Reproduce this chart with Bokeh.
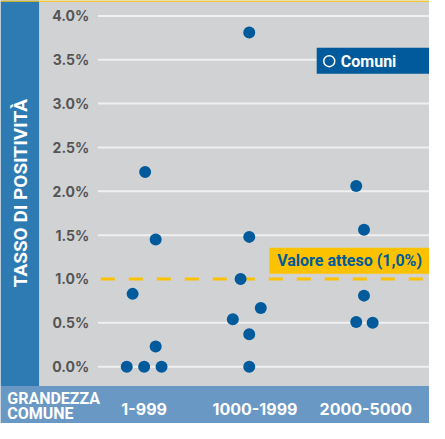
import math
from bokeh.plotting import figure
from bokeh.models import Range1d, BoxAnnotation
from bokeh.core.properties import value
from bokeh.embed import file_html
from bokeh.resources import INLINE

# ---------------- data ----------------
categories = ["1-999", "1000-1999", "2000-5000"]
point_category = [0, 0, 0, 0, 0, 0, 0,
                  1, 1, 1, 1, 1, 1, 1,
                  2, 2, 2, 2, 2]
point_jitter = [-0.157, 0.0, 0.157, 0.104, -0.104, 0.104, 0.009,
                -0.052, -0.052, -0.2, 0.052, -0.13, -0.052, -0.052,
                0.061, -0.087, -0.017, -0.017, -0.087]
point_rate = [0.0, 0.0, 0.0, 0.23, 0.83, 1.45, 2.22,
              0.0, 0.37, 0.54, 0.67, 1.0, 1.48, 3.81,
              0.50, 0.51, 0.81, 1.56, 2.06]
y_ticks = [0.0, 0.5, 1.0, 1.5, 2.0, 2.5, 3.0, 3.5, 4.0]
y_tick_labels = ["0.0%", "0.5%", "1.0%", "1.5%", "2.0%", "2.5%", "3.0%", "3.5%", "4.0%"]
expected_value = 1.0
expected_label = "Valore atteso (1,0%)"
y_title = "TASSO DI POSITIVITÀ"
x_title = ["GRANDEZZA", "COMUNE"]
legend_label = "Comuni"

# ---------------- style ----------------
GRAY = "#d1d2d4"
BAND_LEFT = "#2e7bb4"
BAND_BOTTOM = "#6a98c4"
DOT = "#005a9c"
YELLOW = "#fcc200"
GRID = "#f0f0f0"
TICK_TXT = "#555555"

W, H = 429, 423
REF_W, REF_H = 445, 439


# layout helpers: reference pixel -> data coordinate
def xd(px):
    return (px - 149) / 115.0


def yd(py):
    return (380 - py) / 91.0


p = figure(width=W, height=H,
           x_range=Range1d(xd(0), xd(REF_W)),
           y_range=Range1d(yd(REF_H), yd(0)),
           output_backend="svg", toolbar_location=None,
           x_axis_location=None, y_axis_location=None,
           min_border=0, min_border_left=0, min_border_right=0,
           min_border_top=0, min_border_bottom=0,
           background_fill_color=GRAY, border_fill_color=GRAY,
           outline_line_color=None)
p.xgrid.grid_line_color = None
p.ygrid.grid_line_color = None


def band(**kw):
    color = kw.pop("color")
    b = BoxAnnotation(fill_color=color, fill_alpha=1.0, line_color=None,
                      line_alpha=0, level="underlay", **kw)
    p.add_layout(b)


band(right=xd(40), bottom=yd(400), color=BAND_LEFT)
band(top=yd(400), color=BAND_BOTTOM)
band(bottom=yd(1.3), color=YELLOW)

# gridlines
grid_ticks = [t for t in y_ticks if t != expected_value]
p.segment(x0=[xd(101)] * len(grid_ticks), x1=[xd(REF_W)] * len(grid_ticks),
          y0=grid_ticks, y1=grid_ticks, line_color=GRID, line_width=2)

# expected value dashed line
p.segment(x0=[xd(104)], x1=[xd(REF_W)], y0=[expected_value], y1=[expected_value],
          line_color=YELLOW, line_width=3, line_dash="14 14")

# legend box and expected-value label box (drawn above gridlines)
p.quad(left=[xd(328)], right=[xd(REF_W)], top=[yd(49)], bottom=[yd(76)],
       fill_color=DOT, line_color=None)
p.quad(left=[xd(279)], right=[xd(REF_W)], top=[yd(256.5)], bottom=[yd(283.5)],
       fill_color=YELLOW, line_color=None)

# points
xs = [c + j for c, j in zip(point_category, point_jitter)]
p.scatter(x=xs, y=point_rate, size=12, fill_color=DOT, line_color=None)

# tick labels
p.text(x=[xd(92)] * len(y_ticks), y=y_ticks, text=y_tick_labels,
       text_font=value("Inter"), text_font_style="bold", text_font_size="14px",
       text_color=TICK_TXT, text_align="right", text_baseline="middle")

# y title
p.text(x=[xd(21)], y=[yd(200)], text=[y_title], angle=math.pi / 2,
       text_font=value("Roboto"), text_font_style="bold", text_font_size="19px",
       text_color="white", text_align="center", text_baseline="middle")

# x title
p.text(x=[xd(7)] * 2, y=[yd(413), yd(429)], text=x_title,
       text_font=value("Roboto"), text_font_style="bold", text_font_size="16px",
       text_color="white", text_align="left", text_baseline="middle")

# category labels
p.text(x=list(range(len(categories))), y=[yd(424)] * len(categories), text=categories,
       text_font=value("Inter"), text_font_style="bold", text_font_size="16px",
       text_color="white", text_align="center", text_baseline="middle")

# legend
p.scatter(x=[xd(341)], y=[yd(63)], size=11, fill_color=None,
          line_color="white", line_width=1.5)
p.text(x=[xd(353)], y=[yd(63)], text=[legend_label],
       text_font=value("Roboto"), text_font_style="bold", text_font_size="16px",
       text_color="white", text_align="left", text_baseline="middle")

# expected label
p.text(x=[xd(287)], y=[yd(270)], text=[expected_label],
       text_font=value("Roboto"), text_font_style="bold", text_font_size="16px",
       text_color=DOT, text_align="left", text_baseline="middle")

open("out.html", "w").write(file_html(p, INLINE))
